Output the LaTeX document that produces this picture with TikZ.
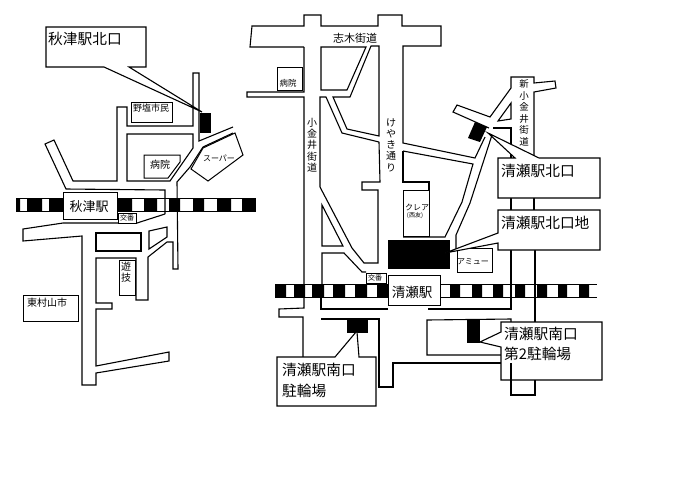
\documentclass[tikz,border=0pt]{standalone}
\usepackage{fontspec}
\setmainfont{Noto Sans CJK JP}
\tikzset{
  road/.style={line width=1.1pt,line join=miter},
  building/.style={line width=1pt,fill=white},
  callout/.style={line width=1.1pt,fill=white},
  railframe/.style={line width=0.9pt},
  maplabel/.style={inner sep=0pt,align=center},
  calloutlabel/.style={inner sep=0pt,anchor=west,font=\fontsize{14.7}{16}\selectfont}
}
\begin{document}
\begin{tikzpicture}[x=1pt,y=-1pt]
  \useasboundingbox (0,0) rectangle (690,488);

  % Railway of the left map
  \draw [railframe] (16,198) rectangle (255,211);%
  \fill (16,198) rectangle (20,211) (27,198) rectangle (42,211) (49,198) rectangle (63,211)
        (117,198) rectangle (132,211) (144,198) rectangle (157,211) (169,198) rectangle (180,211)
        (193,198) rectangle (204,211) (217,198) rectangle (231,211) (242,198) rectangle (255,211);%

  % Railway of the right map
  \draw [railframe] (275,284) -- (597,284);%
  \draw [railframe] (275,297) -- (597,297);%
  \fill (275,284) rectangle (286,297) (294,284) rectangle (305,297) (312,284) rectangle (324,297)
        (333,284) rectangle (345,297) (355,284) rectangle (367,297) (377,284) rectangle (388,297)
        (450,284) rectangle (460,297) (472,284) rectangle (482,297) (493,284) rectangle (503,297)
        (515,284) rectangle (525,297) (537,284) rectangle (547,297) (558,284) rectangle (567,297)
        (579,284) rectangle (589,297);%

  % Drawing roads of the left map
  \draw [road] (165,214) -- (165,190) -- (66,189) -- (45,144) -- (54,140) -- (73,181) -- (117,181) -- (117,107)
        -- (127,107) -- (127,126) -- (193,126) -- (193,73) -- (199,73) -- (199,141) -- (233,127);%
  \draw [road] (233,133) -- (203,147) -- (190,167) -- (177,182) -- (178,269) -- (173,269) -- (173,242) -- (167,242)
        -- (148,257) -- (148,300) -- (136,300) -- (136,258) -- (96,258) -- (96,303) -- (112,303) -- (112,309)
        -- (96,309) -- (96,366) -- (169,352) -- (169,361) -- (96,373) -- (96,385) -- (82,385) -- (82,236)
        -- (23,241) -- (23,229) -- (63,223) -- (137,223) -- (165,214);%
  \draw [road] (127,134) -- (193,134) -- (193,148) -- (170,181) -- (127,181) -- cycle;%
  \draw [road] (96,233) rectangle (141,251);%
  \draw [road] (149,231) -- (167,227) -- (167,237) -- (149,249) -- cycle;%

  % Drawing roads of the right map
  \draw [road] (304,47) -- (250,47) -- (252,26) -- (304,26) -- (304,15) -- (321,15) -- (321,26) -- (378,26)
        -- (378,15) -- (402,15) -- (402,26) -- (441,26) -- (441,46) -- (403,46) -- (403,143) -- (475,158) -- (485,137);%
  \draw [road] (304,47) -- (304,92) -- (247,92) -- (247,97) -- (304,97) -- (304,308) -- (279,309) -- (279,317)
        -- (303,317) -- (303,358);%
  \draw [road] (321,47) -- (366,47) -- (347,90) -- (321,90) -- cycle;%
  \draw [road] (371,46) -- (379,46) -- (379,136) -- (347,129) -- (333,97) -- (350,97) -- cycle;%
  \draw [road] (379,142) -- (342,133) -- (326,97) -- (320,97) -- (320,187) -- (352,248) -- (364,263) -- (378,263)
        -- (378,190) -- (362,190) -- (362,182) -- (380,182) -- (379,142);%
  \draw [road] (322,205) -- (343,246) -- (322,246) -- cycle;%
  \draw [road] (322,284) -- (322,253) -- (344,253) -- (362,272) -- (366,272);%
  \draw [road] (388,309) -- (321,309) -- (321,297);%
  \draw [road] (321,319) -- (379,319) -- (379,387) -- (393,387) -- (393,363) -- (502,363);%
  \draw [road] (502,355) -- (427,355) -- (427,320) -- (511,319) -- (511,324);%
  \draw [road] (403,151) -- (473,164) -- (462,202) -- (445,237) -- (403,237);%
  \draw [road] (403,151) -- (403,182) -- (429,182) -- (429,190);%
  \draw [road] (492,135) -- (470,203) -- (456,235) -- (456,250);%
  \draw [road] (493,128) -- (511,128) -- (511,158);%
  \draw [road] (511,103) -- (511,119) -- (498,121) -- cycle;%
  \draw [road] (489,128) -- (453,112) -- (457,105) -- (490,117) -- (511,88) -- (511,77) -- (534,77) -- (534,83)
        -- (555,81) -- (556,88) -- (534,92) -- (534,158);%
  \draw [road] (511,198) -- (511,210);%
  \draw [road] (534,198) -- (534,210);%
  \draw [road] (511,250) -- (511,309) -- (428,309);%
  \draw [road] (535,250) -- (535,322);%

  % Buildings of the left map
  \draw [building] (131,102) rectangle (172,122);%
  \draw [building] (144,155) -- (180,155) -- (180,162) -- (168,178) -- (144,178) -- cycle;%
  \draw [building] (235,133) -- (243,155) -- (208,181) -- (191,169) -- (203,148) -- cycle;%
  \draw [building] (119,260) rectangle (135,295);%
  \draw [building] (23,295) rectangle (78,321);%
  \draw [building] (118,213) rectangle (136,223);%
  \draw [building] (63,192) rectangle (117,219);%

  % Buildings of the right map
  \draw [building] (277,67) rectangle (302,90);%
  \draw [building] (403,190) rectangle (429,236);%
  \draw [building] (457,248) rectangle (492,272);%
  \draw [building] (366,273) rectangle (386,283);%
  \draw [building] (388,275) rectangle (440,305);%

  % Marking parking areas
  \fill (200,113) rectangle (211,133);%
  \fill (475,122) -- (487,127) -- (480,142) -- (468,138) -- cycle;%
  \fill (388,240) rectangle (450,269);%
  \fill (347,320) rectangle (368,333);%
  \fill (467,319) rectangle (480,343);%

  % Callouts with their pointers
  \draw [callout] (46,27) -- (146,27) -- (146,67) -- (129,67) -- (202,112) -- (104,67) -- (46,67) -- cycle;%
  \draw [callout] (498,158) -- (515,158) -- (488,133) -- (539,158) -- (600,158) -- (600,198) -- (498,198) -- cycle;%
  \draw [callout] (498,210) -- (600,210) -- (600,250) -- (498,250) -- (498,243) -- (445,253) -- (498,233) -- cycle;%
  \draw [callout] (277,357) -- (335,357) -- (356,332) -- (357,332) -- (359,357) -- (376,357) -- (376,406) -- (277,406) -- cycle;%
  \draw [callout] (501,322) -- (602,322) -- (602,380) -- (501,380) -- (501,347) -- (480,342) -- (501,332) -- cycle;%
  \draw [road] (511,363) -- (511,395) -- (535,395) -- (535,380);%

  % Labels of the left map
  \node (kitaguchiA) [calloutlabel] at (48,39) {秋津駅北口};
  \node (noshio) [maplabel,font=\fontsize{9}{10}\selectfont] at (151,108) {野塩市民};
  \node (hospitalA) [maplabel,font=\fontsize{10}{11}\selectfont] at (160,165) {病院};
  \node (super) [maplabel,font=\fontsize{8}{9}\selectfont] at (219,158) {スーパー};
  \node (akitsu) [maplabel,font=\fontsize{13}{14}\selectfont] at (89,207) {秋津駅};
  \node (kobanA) [maplabel,font=\fontsize{7}{8}\selectfont] at (127,218) {交番};
  \node (yugi) [maplabel,font=\fontsize{10}{10.5}\selectfont] at (126,272) {遊\\技};
  \node (higashi) [maplabel,anchor=west,font=\fontsize{10}{11}\selectfont] at (27,303) {東村山市};

  % Labels of the right map
  \node (shiki) [maplabel,font=\fontsize{11}{12}\selectfont] at (355,38) {志木街道};
  \node (hospitalB) [maplabel,font=\fontsize{8.5}{9}\selectfont] at (288,83) {病院};
  \node (koganei) [maplabel,font=\fontsize{10}{11.3}\selectfont] at (312,145) {小\\金\\井\\街\\道};
  \node (keyaki) [maplabel,font=\fontsize{10}{11.3}\selectfont] at (391,145) {け\\や\\き\\通\\り};
  \node (shinkoganei) [maplabel,font=\fontsize{9.5}{11.5}\selectfont] at (524,113) {新\\小\\金\\井\\街\\道};
  \node (clea) [maplabel,font=\fontsize{8}{9}\selectfont] at (417,207) {クレア};
  \node (seiyu) [maplabel,font=\fontsize{6}{7}\selectfont] at (415,216) {(西友)};
  \node (amyu) [maplabel,font=\fontsize{8}{9}\selectfont] at (473,262) {アミュー};
  \node (kobanB) [maplabel,font=\fontsize{7}{8}\selectfont] at (375,278) {交番};
  \node (kiyose) [maplabel,font=\fontsize{13.5}{14}\selectfont] at (412,292) {清瀬駅};
  \node (kitaguchiB) [calloutlabel] at (501,171) {清瀬駅北口};
  \node (kitaguchiC) [calloutlabel] at (501,223) {清瀬駅北口地};
  \node (minamiA) [calloutlabel] at (282,370) {清瀬駅南口};
  \node (rinjoA) [calloutlabel] at (282,391) {駐輪場};
  \node (minamiB) [calloutlabel] at (504,334) {清瀬駅南口};
  \node (rinjoB) [calloutlabel] at (504,354) {第2駐輪場};
\end{tikzpicture}
\end{document}
